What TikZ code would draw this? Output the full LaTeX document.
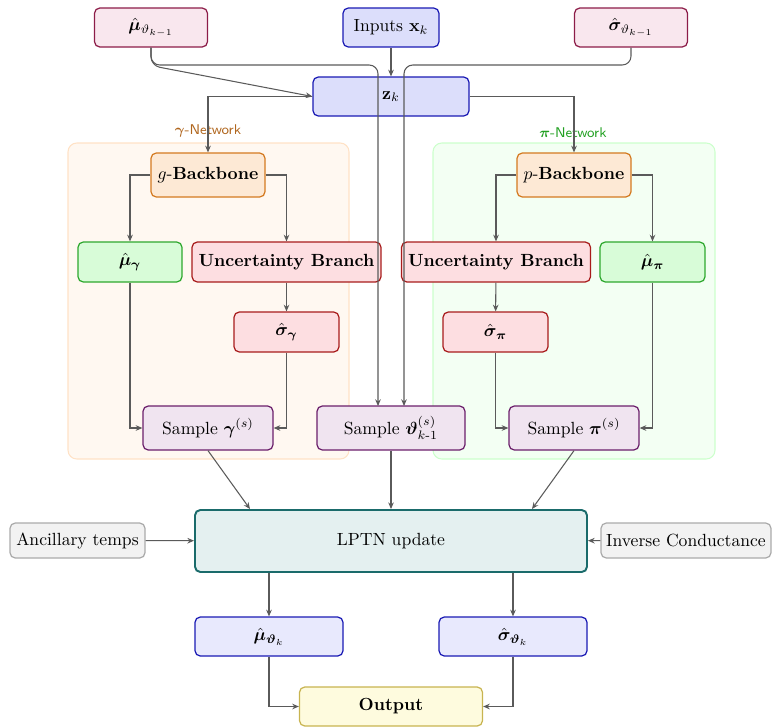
\documentclass[tikz,border=0pt]{standalone}
\usepackage{amsmath,amssymb,bm}
\usetikzlibrary{arrows.meta,calc}
\newdimen\pxu \pxu=0.568pt
\definecolor{pinkfill}{HTML}{F9E7EE}\definecolor{pinkdraw}{HTML}{8C1C48}
\definecolor{bluefill}{HTML}{DCDEFB}\definecolor{bluedraw}{HTML}{1A1AB4}
\definecolor{bluefillb}{HTML}{E8E9FD}
\definecolor{orfill}{HTML}{FDE9D5}\definecolor{ordraw}{HTML}{D47A20}
\definecolor{grfill}{HTML}{D8FCD8}\definecolor{grdraw}{HTML}{2EA82E}
\definecolor{rdfill}{HTML}{FDDEE1}\definecolor{rddraw}{HTML}{A81C1C}
\definecolor{pufill}{HTML}{F0E4F0}\definecolor{pudraw}{HTML}{6B1F6B}
\definecolor{tefill}{HTML}{E4F0F0}\definecolor{tedraw}{HTML}{1A6B6B}
\definecolor{gyfill}{HTML}{F2F2F2}\definecolor{gydraw}{HTML}{AAAAAA}
\definecolor{yefill}{HTML}{FEFBDE}\definecolor{yedraw}{HTML}{C8B450}
\definecolor{orbg}{HTML}{FFF8F1}\definecolor{orbgline}{HTML}{FFE2C6}
\definecolor{grbg}{HTML}{F3FFF3}\definecolor{grbgline}{HTML}{CCFFCC}
\definecolor{arrowgray}{HTML}{5A5A5A}
\definecolor{gamlabel}{HTML}{B0661E}\definecolor{pilabel}{HTML}{22A022}
\tikzset{
  box/.style={draw, rounded corners=3pt, line width=0.7pt, align=center, inner sep=2pt},
  wh/.style 2 args={minimum width=#1\pxu, minimum height=#2\pxu},
  prior/.style={box, fill=pinkfill, draw=pinkdraw},
  inbox/.style={box, fill=bluefill, draw=bluedraw},
  outmom/.style={box, fill=bluefillb, draw=bluedraw},
  backbone/.style={box, fill=orfill, draw=ordraw},
  meanbox/.style={box, fill=grfill, draw=grdraw},
  uncbox/.style={box, fill=rdfill, draw=rddraw},
  samplebox/.style={box, fill=pufill, draw=pudraw},
  lptn/.style={box, fill=tefill, draw=tedraw, line width=1.1pt},
  extbox/.style={box, fill=gyfill, draw=gydraw},
  outbox/.style={box, fill=yefill, draw=yedraw},
  conn/.style={draw=arrowgray, line width=0.6pt, -{Stealth[length=3.8pt,width=3.2pt]}},
  netlabel/.style={font=\footnotesize\sffamily},
}
\begin{document}
\begin{tikzpicture}[x=\pxu, y=-\pxu]
\path[use as bounding box] (0,0) rectangle (772,727);

% network containers
\draw[fill=orbg, draw=orbgline, rounded corners=5pt, line width=0.6pt] (68,143) rectangle (349,459);
\draw[fill=grbg, draw=grbgline, rounded corners=5pt, line width=0.6pt] (433,143) rectangle (715,459);
\node[netlabel, text=gamlabel] (gamnet) at (208,131) {$\bm{\gamma}$-Network};
\node[netlabel, text=pilabel] (pinet) at (573,133) {$\bm{\pi}$-Network};

% inputs
\node[prior, wh={113}{39}] (muprev) at (151,27.5) {$\hat{\bm{\mu}}_{\vartheta_{k-1}}$};
\node[inbox, wh={96}{39}] (inp) at (391,27.5) {Inputs $\mathbf{x}_k$};
\node[prior, wh={113}{39}] (sgprev) at (631,27.5) {$\hat{\bm{\sigma}}_{\vartheta_{k-1}}$};
\node[inbox, wh={156}{39}] (z) at (391,96.5) {$\mathbf{z}_k$};

% gamma network
\node[backbone, wh={114}{44}] (gbb) at (208,175) {$g$-\textbf{Backbone}};
\node[meanbox, wh={104}{40}] (mug) at (130,262) {$\hat{\bm{\mu}}_{\bm{\gamma}}$};
\node[uncbox, wh={189}{40}] (ubg) at (286.5,262) {\textbf{Uncertainty Branch}};
\node[uncbox, wh={105}{40}] (sgg) at (286.5,332) {$\hat{\bm{\sigma}}_{\bm{\gamma}}$};
\node[samplebox, wh={130}{44}] (sampg) at (208,428) {Sample $\bm{\gamma}^{(s)}$};

% pi network
\node[backbone, wh={114}{44}] (pbb) at (574,175) {$p$-\textbf{Backbone}};
\node[uncbox, wh={189}{40}] (ubp) at (496,262) {\textbf{Uncertainty Branch}};
\node[meanbox, wh={105}{40}] (mup) at (652.5,262) {$\hat{\bm{\mu}}_{\bm{\pi}}$};
\node[uncbox, wh={105}{40}] (sgp) at (495.5,332) {$\hat{\bm{\sigma}}_{\bm{\pi}}$};
\node[samplebox, wh={130}{44}] (sampp) at (574,428) {Sample $\bm{\pi}^{(s)}$};

% state sample
\node[samplebox, wh={148}{44}] (sampt) at (391,428) {Sample $\bm{\vartheta}^{(s)}_{k\text{-}1}$};

% thermal model
\node[lptn, wh={392}{62}] (lptnu) at (391,541) {LPTN update};
\node[extbox, wh={135}{35}] (anc) at (77.5,540.5) {Ancillary temps};
\node[extbox, wh={170}{35}] (invc) at (686,540.5) {Inverse Conductance};
\node[outmom, wh={148}{39}] (muk) at (269,636.5) {$\hat{\bm{\mu}}_{\bm{\vartheta}_k}$};
\node[outmom, wh={148}{39}] (sgk) at (513,636.5) {$\hat{\bm{\sigma}}_{\bm{\vartheta}_k}$};
\node[outbox, wh={183}{39}] (outp) at (391,706.5) {\textbf{Output}};

% connectors: inputs to encoder and state sampler
\draw[conn] (inp) -- (z);
\draw[conn, rounded corners=5pt] (muprev.south) -- ++(0,18) -- (z.west);
\draw[conn, rounded corners=5pt] (muprev.south) |- (378,65) -- (378,406);
\draw[conn, rounded corners=5pt] (sgprev.south) |- (404,65) -- (404,406);

% encoder to backbones
\draw[conn] (z.west) -| (gbb.north);
\draw[conn] (z.east) -| (pbb.north);

% gamma branch
\draw[conn] (gbb.west) -| (mug.north);
\draw[conn] (gbb.east) -| (ubg.north);
\draw[conn] (ubg) -- (sgg);
\draw[conn] (mug.south) |- (sampg.west);
\draw[conn] (sgg.south) |- (sampg.east);

% pi branch
\draw[conn] (pbb.west) -| (ubp.north);
\draw[conn] (pbb.east) -| (mup.north);
\draw[conn] (ubp) -- (sgp);
\draw[conn] (sgp.south) |- (sampp.west);
\draw[conn] (mup.south) |- (sampp.east);

% samples to LPTN
\draw[conn] (sampg.south) -- ($(lptnu.north)+(-141,0)$);
\draw[conn] (sampt) -- (lptnu);
\draw[conn] (sampp.south) -- ($(lptnu.north)+(141,0)$);
\draw[conn] (anc) -- (lptnu);
\draw[conn] (invc) -- (lptnu);

% LPTN outputs
\draw[conn] (lptnu.south -| muk) -- (muk);
\draw[conn] (lptnu.south -| sgk) -- (sgk);
\draw[conn] (muk.south) |- (outp.west);
\draw[conn] (sgk.south) |- (outp.east);
\end{tikzpicture}
\end{document}
